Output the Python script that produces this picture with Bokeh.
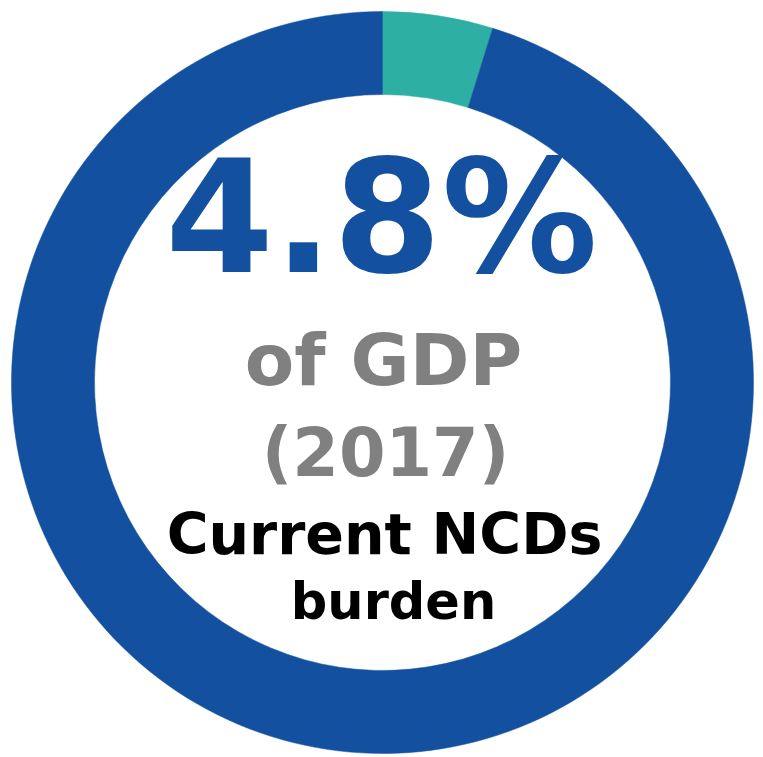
import math
from bokeh.plotting import figure
from bokeh.models import Range1d, ColumnDataSource
from bokeh.core.properties import value
from bokeh.embed import file_html
from bokeh.resources import INLINE

# ---- data ----
categories = ["Current NCDs burden", "Rest of GDP"]
shares = [4.8, 95.2]
colors = ["#2EAFA3", "#1351A0"]
headline = "4.8%"
line2 = "of GDP"
line3 = "(2017)"
line4 = "Current NCDs"
line5 = "burden"

W, H = 763, 757
p = figure(width=W, height=H, output_backend="svg", toolbar_location=None,
           x_range=Range1d(0, W), y_range=Range1d(0, H), min_border=0)
p.axis.visible = False
p.grid.visible = False
p.outline_line_color = None
p.background_fill_color = "white"
p.border_fill_color = "white"

cx, cy = 382, H - 382
total = sum(shares)
starts, ends = [], []
a = math.pi / 2
for s in shares:
    starts.append(a)
    a = a - 2 * math.pi * s / total
    ends.append(a)

src = ColumnDataSource(dict(cat=categories, start=starts, end=ends, color=colors))
p.annular_wedge(x=cx, y=cy, inner_radius=288, outer_radius=371,
                start_angle="start", end_angle="end", direction="clock",
                fill_color="color", line_color="color", line_width=0.5, source=src)

font = value("DejaVu Sans")
def label(txt, x, ybase, size, color):
    yb = ybase - 0.38 * size
    p.text(x=[x], y=[H - yb], text=[txt], text_font=font, text_font_style="bold",
           text_font_size=f"{size}px", text_color=color, text_align="center",
           text_baseline="alphabetic")

label(headline, 381, 277, 156, "#1351A0")
label(line2, 383, 387, 72, "#808080")
label(line3, 385, 478, 67, "#808080")
label(line4, 384, 555, 57, "#000000")
label(line5, 393, 620, 51, "#000000")

open("out.html", "w").write(file_html(p, INLINE))
